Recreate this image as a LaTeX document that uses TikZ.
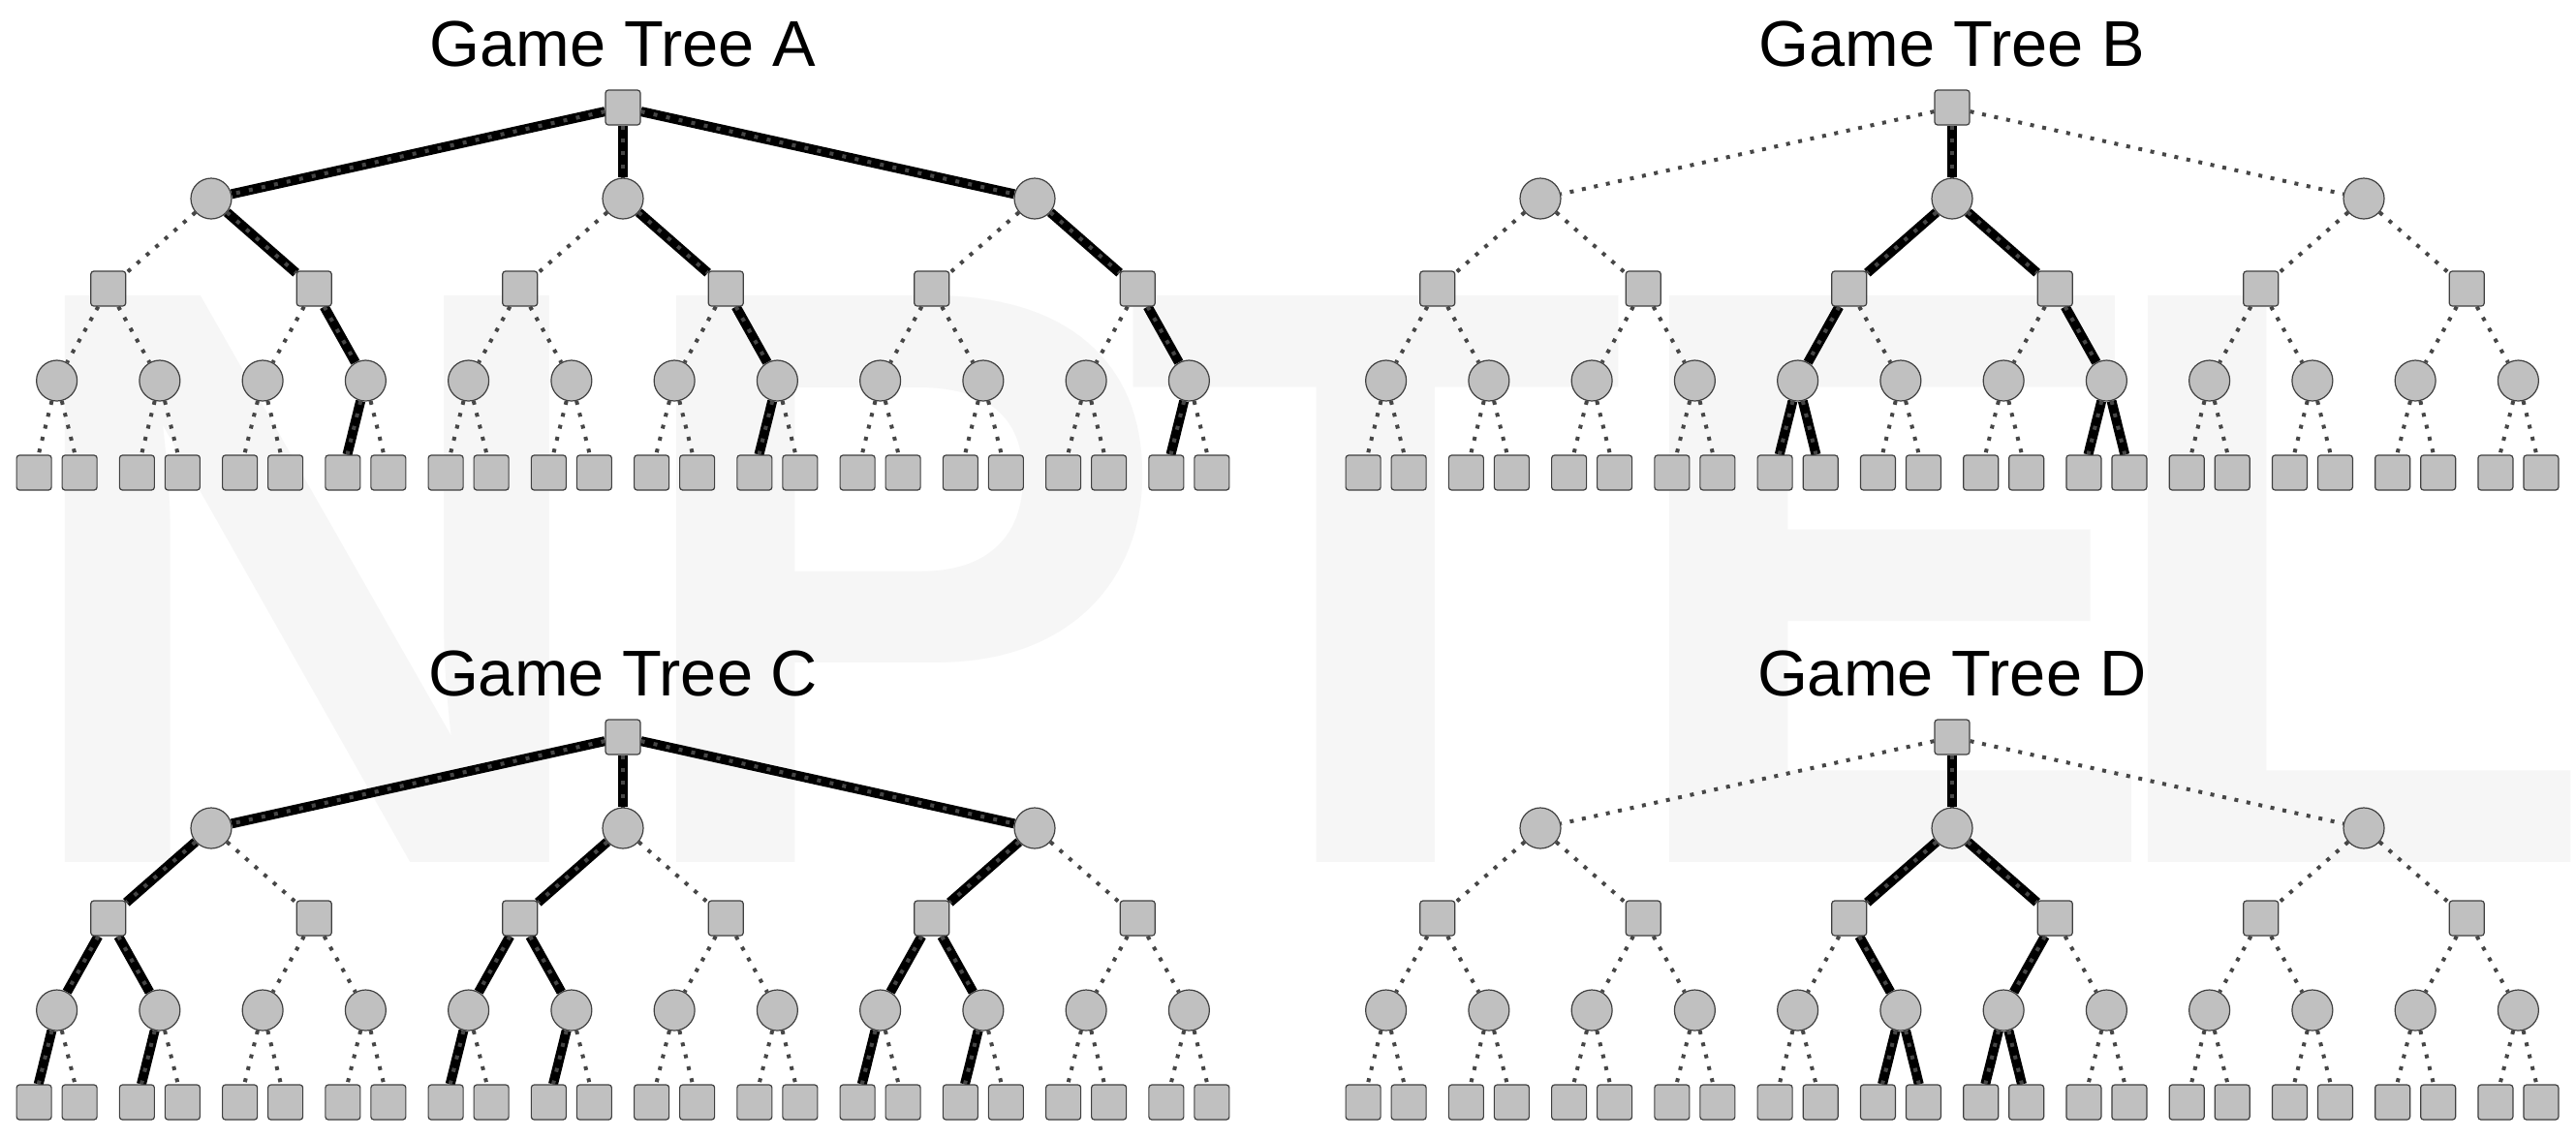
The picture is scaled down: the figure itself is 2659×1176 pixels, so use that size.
\documentclass[tikz,border=0pt]{standalone}
\usepackage{fontspec}
\setmainfont{Liberation Sans}
\usetikzlibrary{calc}
\definecolor{nodefill}{RGB}{192,192,192}
\definecolor{nodeline}{RGB}{64,64,64}
\definecolor{dotgray}{RGB}{70,70,70}
\definecolor{wmgray}{RGB}{246,246,246}
\pgfdeclarelayer{wm}
\pgfdeclarelayer{edges}
\pgfsetlayers{wm,edges,main}
\tikzstyle{chance}=[circle, draw=nodeline, fill=nodefill, line width=0.12mm, minimum size=4.2mm, inner sep=0pt]
\tikzstyle{move}=[rectangle, rounded corners=0.3mm, draw=nodeline, fill=nodefill, line width=0.12mm, minimum size=3.6mm, inner sep=0pt]
\tikzstyle{plain}=[draw=dotgray, line width=0.4mm, dash pattern=on 0.4mm off 0.87mm]
\tikzstyle{best}=[draw=black, line width=1mm, postaction={draw=dotgray, line width=0.4mm, dash pattern=on 0.4mm off 0.93mm}]
\tikzstyle{title}=[font=\fontsize{19}{19}\selectfont, anchor=base, inner sep=0pt]
\tikzstyle{wmark}=[text=wmgray, font=\bfseries\fontsize{242}{242}\selectfont, anchor=base, inner sep=0pt]

% edges on the chosen line
\foreach \n in {A1,A2,A3,A12,A22,A32,A122,A222,A322,A1221,A2221,A3221,
  B2,B21,B22,B211,B222,B2111,B2112,B2221,B2222,
  C1,C2,C3,C11,C21,C31,C111,C112,C211,C212,C311,C312,C1111,C1121,C2111,C2121,C3111,C3121,
  D2,D21,D22,D212,D221,D2121,D2122,D2211,D2212}
  {\expandafter\gdef\csname best\n\endcsname{}}

\newcommand\treeedge[2]{%
  \ifcsname best#2\endcsname\def\estyle{best}\else\def\estyle{plain}\fi
  \draw[\estyle] (#1) -- (#2);}

\newcommand\gametree[3]{%
  \begin{scope}[shift={(#2,#3)}]
  \node[title] (#1t) at (643,68) {Game Tree #1};
  \node[move] (#1r) at (643,111) {};
  \foreach \i in {1,2,3} {
    \pgfmathsetmacro\xa{643+(\i-2)*425}
    \node[chance] (#1\i) at (\xa,205) {};
    \foreach \j in {1,2} {
      \pgfmathsetmacro\xb{\xa+(2*\j-3)*106.25}
      \node[move] (#1\i\j) at (\xb,298) {};
      \foreach \k in {1,2} {
        \pgfmathsetmacro\xc{\xb+(2*\k-3)*53.125}
        \node[chance] (#1\i\j\k) at (\xc,393) {};
        \foreach \l in {1,2} {
          \pgfmathsetmacro\xd{\xc+(2*\l-3)*23.5}
          \node[move] (#1\i\j\k\l) at (\xd,488) {};
        }
      }
    }
  }
  \end{scope}}

\newcommand\treelinks[1]{%
  \foreach \i in {1,2,3} {
    \treeedge{#1r}{#1\i}
    \foreach \j in {1,2} {
      \treeedge{#1\i}{#1\i\j}
      \foreach \k in {1,2} {
        \treeedge{#1\i\j}{#1\i\j\k}
        \foreach \l in {1,2} {
          \treeedge{#1\i\j\k}{#1\i\j\k\l}
        }
      }
    }
  }}

\begin{document}
\begin{tikzpicture}[x=0.1mm, y=-0.1mm]
  \useasboundingbox (0,0) rectangle (2659,1176);
  \begin{pgfonlayer}{wm}
    \node[wmark] (wmN) at (318,890) {N};
    \node[wmark] (wmP) at (925,890) {P};
    \node[wmark] (wmT) at (1420,890) {T};
    \node[wmark] (wmE) at (1950,890) {E};
    \node[wmark] (wmL) at (2420,890) {L};
  \end{pgfonlayer}

  \gametree{A}{0}{0}
  \gametree{B}{1372}{0}
  \gametree{C}{0}{650}
  \gametree{D}{1372}{650}

  \begin{pgfonlayer}{edges}
    \treelinks{A}
    \treelinks{B}
    \treelinks{C}
    \treelinks{D}
  \end{pgfonlayer}
\end{tikzpicture}
\end{document}
